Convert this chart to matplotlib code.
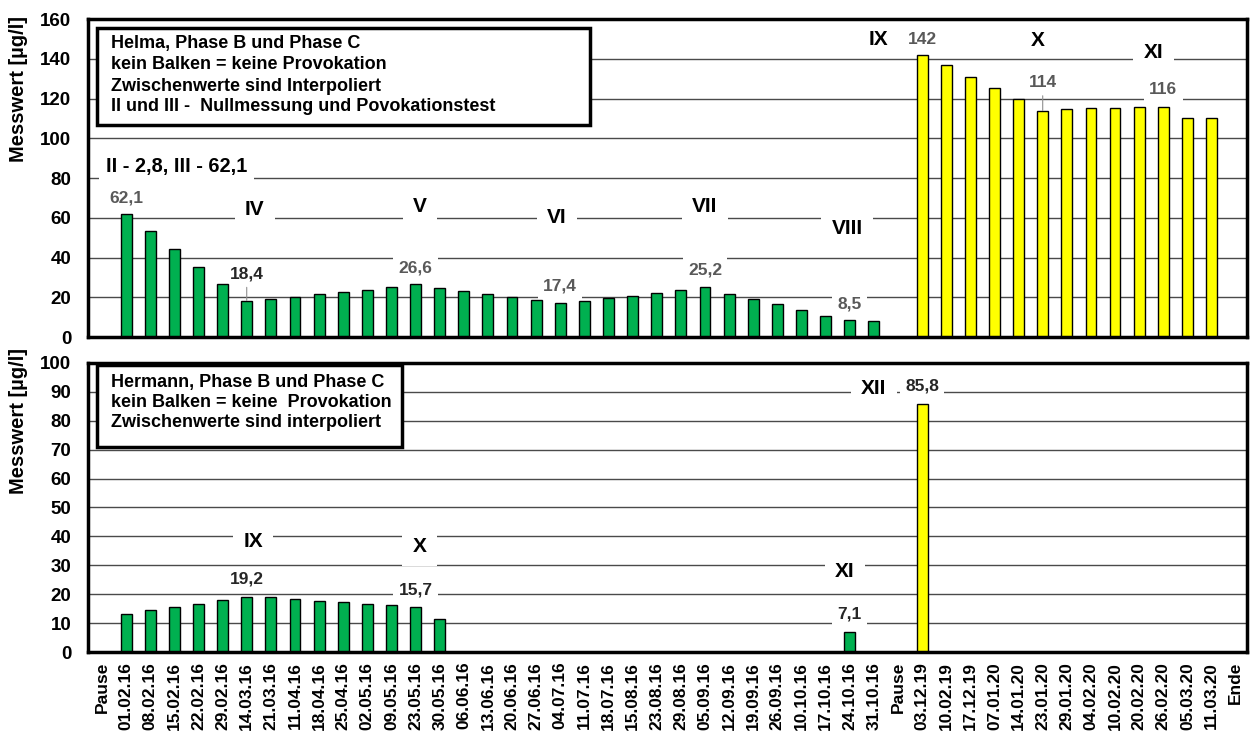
import numpy as np
import matplotlib.pyplot as plt
from matplotlib.patches import Rectangle

plt.rcParams['font.family'] = ['Liberation Sans', 'DejaVu Sans']
plt.rcParams['font.weight'] = 'bold'

# x-Achse: Termine
dates = ['Pause', '01.02.16', '08.02.16', '15.02.16', '22.02.16', '29.02.16', '14.03.16',
         '21.03.16', '11.04.16', '18.04.16', '25.04.16', '02.05.16', '09.05.16', '23.05.16',
         '30.05.16', '06.06.16', '13.06.16', '20.06.16', '27.06.16', '04.07.16', '11.07.16',
         '18.07.16', '15.08.16', '23.08.16', '29.08.16', '05.09.16', '12.09.16', '19.09.16',
         '26.09.16', '10.10.16', '17.10.16', '24.10.16', '31.10.16', 'Pause', '03.12.19',
         '10.02.19', '17.12.19', '07.01.20', '14.01.20', '23.01.20', '29.01.20', '04.02.20',
         '10.02.20', '20.02.20', '26.02.20', '05.03.20', '11.03.20', 'Ende']

nan = np.nan
# Phase B (2016, gruen), erster Eintrag = Pause
helma_b = [nan, 62.1, 53.2, 44.3, 35.5, 26.8, 18.4, 19.0, 20.4, 21.6, 22.7, 23.9, 25.3,
           26.6, 24.7, 23.1, 21.6, 20.2, 18.5, 17.4, 18.2, 19.9, 20.9, 22.3, 23.5, 25.2,
           21.9, 19.2, 16.4, 13.5, 10.8, 8.5, 8.3]
# Phase C (2019/20, gelb)
helma_c = [142, 136.7, 131.1, 125.4, 119.8, 114, 114.6, 115.1, 115.4, 115.9, 116, 110.0, 110.0]

hermann_b = [nan, 13.0, 14.4, 15.5, 16.8, 18.0, 19.2, 18.9, 18.3, 17.8, 17.2, 16.8, 16.3,
             15.7, 11.3, nan, nan, nan, nan, nan, nan, nan, nan, nan, nan, nan, nan, nan,
             nan, nan, nan, 7.1, nan]
hermann_c = [85.8]

helma_info = ['Helma, Phase B und Phase C',
              'kein Balken = keine Provokation',
              'Zwischenwerte sind Interpoliert',
              'II und III -  Nullmessung und Povokationstest']
hermann_info = ['Hermann, Phase B und Phase C',
                'kein Balken = keine  Provokation',
                'Zwischenwerte sind interpoliert']

GREEN = '#00B050'
YELLOW = '#FFFF00'
GREY = '#595959'

x = np.arange(len(dates))


def draw_bars(ax, b, c):
    xb = x[:len(b)]
    ax.bar(xb, b, width=0.45, color=GREEN, edgecolor='black', linewidth=1, zorder=2)
    xc = x[len(b) + 1:len(b) + 1 + len(c)]
    ax.bar(xc, c, width=0.45, color=YELLOW, edgecolor='black', linewidth=1, zorder=2)


def style_axes(ax, top, step):
    ax.set_xlim(-0.58, 47.47)
    ax.set_ylim(0, top)
    ax.set_yticks(np.arange(0, top + 1, step))
    ax.yaxis.grid(True, color='#4a4a4a', linewidth=1)
    ax.set_axisbelow(True)
    for s in ax.spines.values():
        s.set_linewidth(2.5)
        s.set_color('black')
    ax.tick_params(axis='y', length=0, pad=12, labelsize=13.5)
    ax.set_ylabel('Messwert [µg/l]', fontsize=14.5, fontweight='bold')


def roman(ax, xp, yp, s, box=True):
    bb = dict(boxstyle='square,pad=0.5', fc='white', ec='none') if box else None
    ax.text(xp, yp, s, ha='center', va='center', fontsize=15, zorder=5, bbox=bb)


def value(ax, xp, yp, s, color=GREY, bar=None, box=True):
    if bar is None:
        bb = dict(boxstyle='square,pad=0.3', fc='white', ec='none') if box else None
        ax.text(xp, yp, s, ha='center', va='center', fontsize=12.5, color=color, zorder=5,
                bbox=bb)
    else:
        ax.annotate(s, xy=(xp, bar), xytext=(xp, yp), ha='center', va='center',
                    fontsize=12.5, color=color, zorder=5,
                    arrowprops=dict(arrowstyle='-', color='#909090', lw=0.8,
                                    shrinkA=2, shrinkB=0))


def info_box(ax, lines, x0, y0, w, h, ys):
    ax.add_patch(Rectangle((x0, y0), w, h, transform=ax.transAxes, fc='white',
                           ec='black', lw=2.5, zorder=4))
    for line, yy in zip(lines, ys):
        ax.text(x0 + 0.012, yy, line, transform=ax.transAxes, ha='left', va='center',
                fontsize=13, zorder=5)


fig = plt.figure(figsize=(12.5, 7.36), dpi=100)
ax1 = fig.add_axes([0.0704, 0.542, 0.9272, 0.432])
ax2 = fig.add_axes([0.0704, 0.114, 0.9272, 0.393])

# oberes Diagramm: Helma
draw_bars(ax1, helma_b, helma_c)
style_axes(ax1, 160, 20)
ax1.tick_params(axis='x', length=0, labelbottom=False)
ax1.set_xticks(x)
ax1.yaxis.set_label_coords(-0.052, 0.78)

info_box(ax1, helma_info, 0.0078, 0.667, 0.4254, 0.305, [0.9245, 0.8585, 0.789, 0.726])
ax1.text(0.17, 86, 'II - 2,8, III - 62,1', ha='left', va='center', fontsize=14.4, zorder=5,
         bbox=dict(boxstyle='square,pad=0.35', fc='white', ec='none'))
for xp, yp, s in [(6.34, 64, 'IV'), (13.18, 65.7, 'V'), (18.86, 60.3, 'VI'),
                  (25.0, 65.8, 'VII'), (30.9, 54.7, 'VIII'), (43.6, 143, 'XI')]:
    roman(ax1, xp, yp, s)
roman(ax1, 32.2, 149.8, 'IX', box=False)
roman(ax1, 38.8, 149.3, 'X', box=False)
value(ax1, 1, 70, '62,1')
value(ax1, 6, 31.6, '18,4', color='#262626', bar=helma_b[6])
value(ax1, 13, 35, '26,6')
value(ax1, 19, 25.8, '17,4')
value(ax1, 25, 33.8, '25,2')
value(ax1, 31, 16.8, '8,5')
value(ax1, 34, 150, '142', box=False)
value(ax1, 39, 128, '114', bar=helma_c[5])
value(ax1, 44, 124.7, '116')

# unteres Diagramm: Hermann
draw_bars(ax2, hermann_b, hermann_c)
style_axes(ax2, 100, 10)
ax2.set_xticks(x, dates, rotation=90, fontsize=12.5)
ax2.tick_params(axis='x', length=0, pad=7)
ax2.yaxis.set_label_coords(-0.052, 0.80)

info_box(ax2, hermann_info, 0.0078, 0.709, 0.263, 0.284, [0.933, 0.863, 0.793])
for xp, yp, s in [(6.26, 38.4, 'IX'), (13.16, 36.6, 'X'), (30.8, 27.7, 'XI'), (32.0, 91.2, 'XII')]:
    roman(ax2, xp, yp, s)
value(ax2, 6, 25.1, '19,2', color='#262626', box=False)
value(ax2, 13, 21.6, '15,7', color='#262626')
value(ax2, 31, 13, '7,1', color='#262626')
value(ax2, 34, 92.1, '85,8', color='#262626')

fig.savefig('out.png', dpi=100)
